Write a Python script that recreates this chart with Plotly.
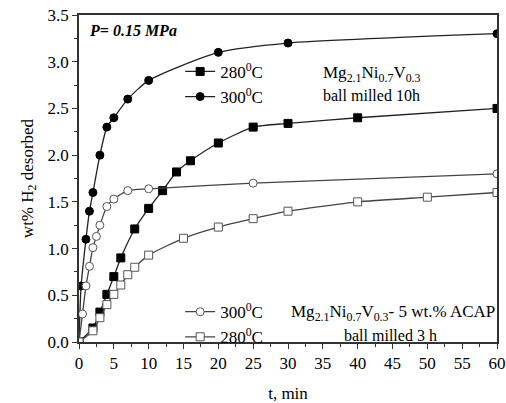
import plotly.graph_objects as go

# 10 h milled, 300 C (filled circles)
t_c10 = [0, 0.3, 1, 1.5, 2, 3, 4, 5, 7, 10, 20, 30, 60]
w_c10 = [0, 0.60, 1.10, 1.40, 1.60, 2.00, 2.30, 2.40, 2.60, 2.80, 3.10, 3.20, 3.30]
# 10 h milled, 280 C (filled squares)
t_s10 = [0, 2, 3, 4, 5, 6, 8, 10, 12, 14, 16, 20, 25, 30, 40, 60]
w_s10 = [0, 0.15, 0.32, 0.51, 0.70, 0.90, 1.21, 1.43, 1.62, 1.82, 1.94, 2.13, 2.30, 2.34, 2.40, 2.50]
# ACAP 3 h, 300 C (open circles)
t_c3 = [0, 0.5, 1, 1.5, 2, 2.5, 3, 4, 5, 7, 10, 25, 60]
w_c3 = [0, 0.30, 0.60, 0.81, 1.01, 1.13, 1.25, 1.45, 1.53, 1.62, 1.64, 1.70, 1.80]
# ACAP 3 h, 280 C (open squares)
t_s3 = [0, 2, 3, 4, 5, 6, 7, 8, 10, 15, 20, 25, 30, 40, 50, 60]
w_s3 = [0, 0.12, 0.26, 0.40, 0.51, 0.61, 0.72, 0.80, 0.93, 1.11, 1.23, 1.32, 1.40, 1.50, 1.55, 1.60]

FONT = "Times New Roman, Liberation Serif, serif"
fig = go.Figure()

def add(t, w, name, symbol, fill, lc, legend):
    fig.add_trace(go.Scatter(
        x=t, y=w, name=name, mode="lines+markers",
        line=dict(color=lc, width=1.3, shape="spline", smoothing=0.6),
        marker=dict(symbol=symbol, size=8, color=fill,
                    line=dict(color="black" if fill == "black" else "#555", width=1)),
        legend=legend))

add(t_s10, w_s10, "280<sup>0</sup>C", "square", "black", "#222", "legend")
add(t_c10, w_c10, "300<sup>0</sup>C", "circle", "black", "#222", "legend")
add(t_c3, w_c3, "300<sup>0</sup>C", "circle", "white", "#444", "legend2")
add(t_s3, w_s3, "280<sup>0</sup>C", "square", "white", "#444", "legend2")

legfont = dict(family=FONT, size=17, color="black")
fig.update_layout(
    width=506, height=403,
    margin=dict(l=79, r=9, t=15, b=61, autoexpand=False),
    paper_bgcolor="white", plot_bgcolor="white",
    font=dict(family=FONT, size=16, color="black"),
    legend=dict(x=0.242, y=0.881, xanchor="left", yanchor="top", font=legfont,
                bgcolor="rgba(0,0,0,0)", itemwidth=30, tracegroupgap=0),
    legend2=dict(x=0.242, y=0.053, xanchor="left", yanchor="middle", font=legfont,
                 bgcolor="rgba(0,0,0,0)", itemwidth=30, tracegroupgap=0),
    xaxis=dict(range=[0, 60], tickvals=list(range(0, 61, 5)), ticks="outside", ticklen=5,
               tickwidth=1.3, tickcolor="#333", showline=True, linecolor="#333", linewidth=1.5,
               mirror=True, showgrid=False, zeroline=False,
               minor=dict(tickvals=[i + 2.5 for i in range(0, 60, 5)], ticks="outside", ticklen=3, tickcolor="#333"),
               title=dict(text="t, min", font=dict(family=FONT, size=17), standoff=26),
               tickfont=dict(family=FONT, size=17)),
    yaxis=dict(range=[0, 3.5], tickvals=[0, 0.5, 1, 1.5, 2, 2.5, 3, 3.5], tickformat=".1f",
               ticks="outside", ticklen=5, tickwidth=1.3, tickcolor="#333", showline=True,
               linecolor="#333", linewidth=1.5, mirror=True, showgrid=False, zeroline=False,
               minor=dict(tickvals=[0.25, 0.75, 1.25, 1.75, 2.25, 2.75, 3.25], ticks="outside", ticklen=3, tickcolor="#333"),
               title=dict(text="wt% H<sub>2</sub> desorbed", font=dict(family=FONT, size=17), standoff=10),
               tickfont=dict(family=FONT, size=17)),
)

fig.add_annotation(x=0.02, y=0.985, xref="paper", yref="paper", xanchor="left", yanchor="top",
                   text="<b><i>P= 0.15 MPa</i></b>", showarrow=False, font=dict(family=FONT, size=16))
fig.add_annotation(x=0.58, y=0.82, xref="paper", yref="paper", xanchor="left", yanchor="middle",
                   text="Mg<sub>2.1</sub>Ni<sub>0.7</sub>V<sub>0.3</sub>", showarrow=False, font=dict(family=FONT, size=17))
fig.add_annotation(x=0.58, y=0.755, xref="paper", yref="paper", xanchor="left", yanchor="middle",
                   text="ball milled 10h", showarrow=False, font=dict(family=FONT, size=16))
fig.add_annotation(x=0.503, y=0.09, xref="paper", yref="paper", xanchor="left", yanchor="middle",
                   text="Mg<sub>2.1</sub>Ni<sub>0.7</sub>V<sub>0.3</sub>- 5 wt.% ACAP", showarrow=False, font=dict(family=FONT, size=17))
fig.add_annotation(x=0.745, y=0.021, xref="paper", yref="paper", xanchor="center", yanchor="middle",
                   text="ball milled 3 h", showarrow=False, font=dict(family=FONT, size=16))

fig.write_html("out.html")
